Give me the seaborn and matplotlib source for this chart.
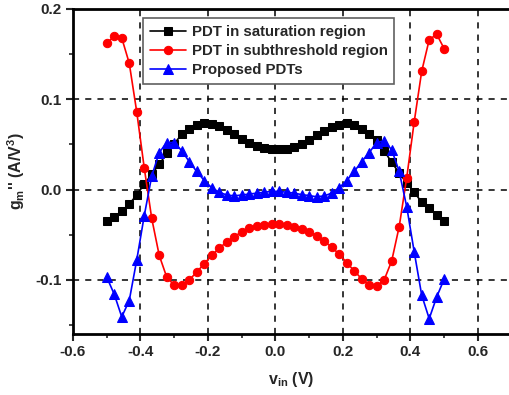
import numpy as np
import pandas as pd
import matplotlib
matplotlib.use("Agg")
import matplotlib.pyplot as plt
import seaborn as sns
from matplotlib.ticker import MultipleLocator

# ---- data ----
vin = np.linspace(-0.5, 0.5, 46)

sat = [-0.035, -0.030, -0.024, -0.016, -0.006, 0.006, 0.017, 0.028, 0.040, 0.051,
       0.061, 0.067, 0.072, 0.074, 0.073, 0.070, 0.066, 0.061, 0.056, 0.052,
       0.048, 0.0455, 0.0445,
       0.0445, 0.045, 0.047, 0.051, 0.055, 0.060, 0.065, 0.069, 0.072, 0.074,
       0.071, 0.067, 0.061, 0.055, 0.043, 0.030, 0.0185, 0.007, -0.003, -0.014,
       -0.020, -0.028, -0.035]

sub = [0.162, 0.170, 0.168, 0.140, 0.086, 0.024, -0.032, -0.073, -0.097, -0.106,
       -0.106, -0.100, -0.0915, -0.082, -0.073, -0.065, -0.058, -0.052, -0.047, -0.043,
       -0.0405, -0.039, -0.038,
       -0.038, -0.039, -0.041, -0.0437, -0.047, -0.051, -0.057, -0.064, -0.0715, -0.081,
       -0.090, -0.099, -0.1055, -0.107, -0.100, -0.079, -0.041, 0.013, 0.075, 0.131,
       0.166, 0.172, 0.156]

prop = [-0.097, -0.116, -0.141, -0.123, -0.078, -0.029, 0.015, 0.041, 0.052, 0.052,
        0.043, 0.031, 0.020, 0.010, 0.002, -0.003, -0.006, -0.007, -0.006, -0.005,
        -0.004, -0.003, -0.002,
        -0.002, -0.003, -0.004, -0.0056, -0.0067, -0.008, -0.007, -0.004, 0.002, 0.010,
        0.020, 0.031, 0.041, 0.052, 0.054, 0.044, 0.020, -0.019, -0.069, -0.117,
        -0.143, -0.119, -0.099]

labels = ["PDT in saturation region", "PDT in subthreshold region", "Proposed PDTs"]
xticks = [-0.6, -0.4, -0.2, 0.0, 0.2, 0.4, 0.6]
yticks = [-0.1, 0.0, 0.1, 0.2]

# ---- style ----
sns.set_style("white")
plt.rcParams['font.family'] = ['Liberation Sans', 'DejaVu Sans']
plt.rcParams['mathtext.fontset'] = 'custom'
plt.rcParams['mathtext.rm'] = 'Liberation Sans'
plt.rcParams['mathtext.bf'] = 'Liberation Sans:bold'
plt.rcParams['mathtext.it'] = 'Liberation Sans:italic'

fig = plt.figure(figsize=(5.10, 3.95), dpi=100)
ax = fig.add_axes([73/510, 61/395, 437/510, 325/395])

ax.set_axisbelow(True)
ax.grid(True, which='major', color='black', linestyle=(0, (4, 4)), linewidth=1.1)

series = [(sat, 's', 'black', 5.5), (sub, 'o', '#ff0000', 6.0), (prop, '^', '#0000ff', 6.5)]
for (vals, mk, col, ms), lab in zip(series, labels):
    sns.lineplot(x=vin, y=vals, ax=ax, marker=mk, color=col, markersize=ms,
                 markeredgecolor=col, linewidth=1.2, label=lab, sort=False)

ax.set_xlim(-0.6, 0.695)
ax.set_ylim(-0.16, 0.2)
ax.set_xticks(xticks)
ax.set_yticks(yticks)
ax.xaxis.set_minor_locator(MultipleLocator(0.1))
ax.yaxis.set_minor_locator(MultipleLocator(0.05))
ax.set_xticklabels([f"{t:.1f}" for t in xticks])
ax.set_yticklabels([f"{t:.1f}" for t in yticks])
ax.tick_params(axis='both', which='major', direction='out', length=5, width=1.5,
               labelsize=11, bottom=True, left=True, top=False, right=False, pad=3)
ax.tick_params(axis='both', which='minor', direction='out', length=3, width=1.2,
               bottom=True, left=True, top=False, right=False)
for lbl in ax.get_xticklabels() + ax.get_yticklabels():
    lbl.set_fontweight('bold')

for side in ['left', 'bottom', 'top']:
    ax.spines[side].set_linewidth(2)
    ax.spines[side].set_color('black')
ax.spines['right'].set_visible(False)

ax.set_ylabel(r"$\mathbf{g}_\mathbf{m}$'' (A/V$^\mathbf{3}$)", fontsize=11.5,
              fontweight='bold', labelpad=6)
ax.set_xlabel(r"$\mathbf{v}_\mathbf{in}$ (V)", fontsize=11.5, fontweight='bold',
              labelpad=8)

leg = ax.legend(loc='upper left', bbox_to_anchor=(0.16, 0.972), borderaxespad=0,
                frameon=True, fancybox=False, edgecolor='#606060', framealpha=1,
                prop={'weight': 'bold', 'size': 10.8}, handlelength=2.4,
                handletextpad=0.4, labelspacing=0.35, borderpad=0.45)
leg.get_frame().set_linewidth(1.2)

fig.savefig("out.png", dpi=100)
